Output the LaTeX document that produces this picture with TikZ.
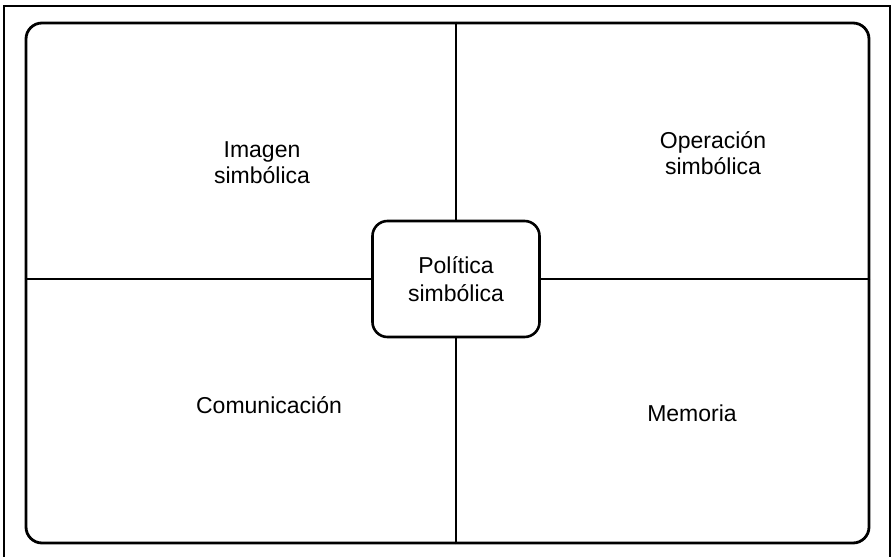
\documentclass[tikz,border=0pt]{standalone}
\usepackage{fontspec}
\setmainfont{Liberation Sans}
\usepackage{tikz}
\usetikzlibrary{positioning}

\begin{document}
\begin{tikzpicture}[x=1pt, y=-1pt,
        panel/.style={rectangle, rounded corners=16pt, draw=black, line width=2.8pt, minimum width=843pt, minimum height=520pt},
        core/.style={rectangle, rounded corners=15pt, draw=black, fill=white, line width=2.6pt, minimum width=167pt, minimum height=116pt, align=center, font=\fontsize{23}{28}\selectfont},
        divider/.style={line width=2.4pt},
        label/.style={align=center, anchor=base, font=\fontsize{23}{26}\selectfont}
    ]
    \useasboundingbox (0,0) rectangle (895,557);

    % Outer frame (open at the bottom)
    \draw[line width=2.6pt] (4,557) -- (4,6) -- (890,6) -- (890,557);

    % Rounded panel and the central box
    \node[panel] (panel) at (447.5,283) {};
    \node[core] (core) at (456,279) {Política\\simbólica};

    % Dividers from the panel edges to the central box
    \draw[divider] (panel.north -| core.north) -- (core.north);
    \draw[divider] (panel.south -| core.south) -- (core.south);
    \draw[divider] (panel.west |- core.west) -- (core.west);
    \draw[divider] (panel.east |- core.east) -- (core.east);

    % Quadrant labels (anchored on the last baseline)
    \node[label] (imagen) at (262,183) {Imagen\\simbólica};
    \node[label] (operacion) at (713,174) {Operación\\simbólica};
    \node[label] (comunicacion) at (269,413) {Comunicación};
    \node[label] (memoria) at (692,421) {Memoria};

\end{tikzpicture}
\end{document}
